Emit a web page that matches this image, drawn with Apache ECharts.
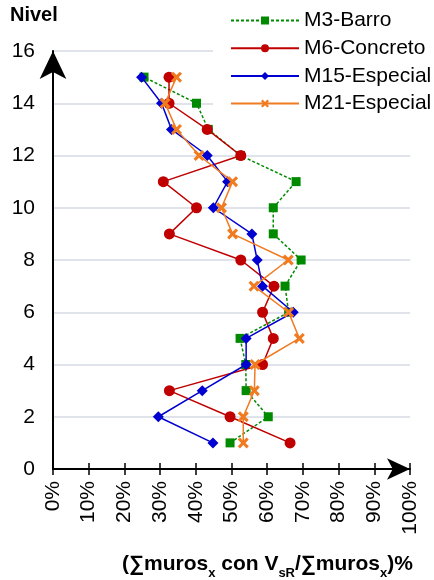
<!DOCTYPE html>
<html><head><meta charset="utf-8">
<script src="https://cdn.jsdelivr.net/npm/echarts@6/dist/echarts.min.js"></script>
<style>html,body{margin:0;padding:0;background:#fff}#c{width:434px;height:580px}</style>
</head><body><div id="c"></div>
<script>
// Data (x in %, y = level)
const levels = [1, 2, 3, 4, 5, 6, 7, 8, 9, 10, 11, 12, 13, 14, 15];
const seriesNames = ['M3-Barro', 'M6-Concreto', 'M15-Especial', 'M21-Especial'];
const m3Barro =      [49.6, 60.3, 54.1, 54.0, 52.4, 66.0, 65.0, 69.5, 61.7, 61.7, 68.1, 52.5, 43.5, 40.2, 25.5];
const m6Concreto =   [66.4, 49.6, 32.6, 58.7, 61.7, 58.7, 61.9, 52.6, 32.6, 40.2, 30.9, 52.6, 43.2, 32.5, 32.5];
const m15Especial =  [44.8, 29.5, 41.8, 54.1, 54.1, 67.3, 58.7, 57.2, 55.7, 44.9, 48.9, 43.2, 33.2, 30.4, 24.8];
const m21Especial =  [53.3, 53.3, 56.4, 56.6, 69.0, 66.0, 56.3, 65.9, 50.3, 47.2, 50.3, 40.9, 34.6, 31.4, 34.6];
const yAxisTitle = 'Nivel';

const FONT = "'Liberation Sans', Arial, sans-serif";
const xSymbol = 'path://M0,2 L2,0 L5,3 L8,0 L10,2 L7,5 L10,8 L8,10 L5,7 L2,10 L0,8 L3,5 Z';
const styles = [
  {color: '#008A00', symbol: 'rect', size: 9, type: [3, 2]},
  {color: '#C00000', symbol: 'circle', size: 11, type: 'solid'},
  {color: '#0000D0', symbol: 'diamond', size: 11, type: 'solid'},
  {color: '#F07B20', symbol: xSymbol, size: 11, type: 'solid'}
];
const allValues = [m3Barro, m6Concreto, m15Especial, m21Especial];

const series = allValues.map((vals, i) => ({
  name: seriesNames[i],
  type: 'line',
  xAxisIndex: 0,
  yAxisIndex: 0,
  data: vals.map((v, k) => [v, levels[k]]),
  symbol: styles[i].symbol,
  symbolSize: styles[i].size,
  color: styles[i].color,
  itemStyle: {color: styles[i].color},
  lineStyle: {color: styles[i].color, width: 1.5, type: styles[i].type},
  z: 3 + i,
  animation: false
}));

const chart = echarts.init(document.getElementById('c'));
chart.setOption({
  animation: false,
  backgroundColor: '#fff',
  textStyle: {fontFamily: FONT},
  grid: {left: 53, right: 24, top: 51, bottom: 111},
  legend: {
    orient: 'vertical',
    left: 213, top: 5,
    padding: [5, 20, 5, 17],
    backgroundColor: '#fff',
    itemWidth: 68, itemHeight: 10, itemGap: 6.7,
    textStyle: {fontSize: 21, color: '#000', fontFamily: FONT},
    data: seriesNames,
    z: 10
  },
  xAxis: [{
    type: 'value', min: 0, max: 100, interval: 10,
    axisLine: {show: true, lineStyle: {color: '#000', width: 2}, symbol: ['none', 'arrow'], symbolSize: [16, 23], symbolOffset: [0, 0]},
    axisTick: {show: true, length: 6, lineStyle: {color: '#000', width: 1.5}},
    axisLabel: {rotate: 90, margin: 12, fontSize: 21, color: '#000', fontFamily: FONT, formatter: '{value}%'},
    splitLine: {show: false}
  }, {
    type: 'value', min: 0, max: 100, interval: 10, position: 'bottom',
    axisLine: {show: false},
    axisTick: {show: true, inside: true, length: 6, lineStyle: {color: '#000', width: 1.5}},
    axisLabel: {show: false},
    splitLine: {show: false}
  }],
  yAxis: {
    type: 'value', min: 0, max: 16, interval: 2,
    axisLine: {show: true, lineStyle: {color: '#000', width: 2}, symbol: ['none', 'arrow'], symbolSize: [20, 28], symbolOffset: [0, 0]},
    axisTick: {show: false},
    axisLabel: {margin: 18, fontSize: 21, color: '#000', fontFamily: FONT},
    splitLine: {show: true, lineStyle: {color: '#D6DAE2', width: 1.5}}
  },
  graphic: [
    {type: 'text', left: 10, top: 5, style: {text: yAxisTitle, fontSize: 20, fontWeight: 'bold', fill: '#000', fontFamily: FONT}},
    {type: 'text', left: 122, top: 554, style: {
      text: '{m|(∑muros}{s|x}{m| con V}{s|sR}{m|/∑muros}{s|x}{m|)%}',
      fill: '#000', fontFamily: FONT,
      rich: {
        m: {fontSize: 21, fontWeight: 'bold', fill: '#000', fontFamily: FONT, lineHeight: 26, verticalAlign: 'top'},
        s: {fontSize: 13, fontWeight: 'bold', fill: '#000', fontFamily: FONT, lineHeight: 17, verticalAlign: 'bottom'}
      }
    }}
  ],
  series: series
});
</script>
</body></html>
